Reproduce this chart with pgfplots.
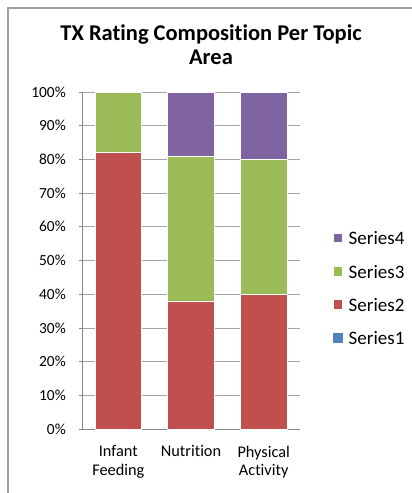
\documentclass[border=0pt]{standalone}
\usepackage{fontspec}
\setmainfont{Carlito}[Ligatures={NoCommon}]
\usepackage{pgfplots}
\pgfplotsset{compat=1.18}
\definecolor{s1}{HTML}{4F81BD}
\definecolor{s2}{HTML}{C0504D}
\definecolor{s3}{HTML}{9BBB59}
\definecolor{s4}{HTML}{8064A2}
\definecolor{axgray}{HTML}{868686}
\definecolor{gridgray}{HTML}{A6A6A6}
\definecolor{framegray}{HTML}{A0A0A0}
\begin{document}
\begin{tikzpicture}
\path[use as bounding box] (0,0) rectangle (412bp,-493bp);
\draw[framegray, line width=1.2bp] (8bp,-493bp) -- (8bp,-8bp) -- (412bp,-8bp);
\node[font=\fontsize{22.5bp}{25bp}\selectfont\bfseries, anchor=base, inner sep=0pt] at (211bp,-40.5bp) {TX Rating Composition Per Topic};
\node[font=\fontsize{22.5bp}{25bp}\selectfont\bfseries, anchor=base, inner sep=0pt] at (211bp,-64.5bp) {Area};
\begin{axis}[
  at={(82bp,-429bp)}, anchor=south west,
  scale only axis, width=218bp, height=337bp,
  ybar stacked, bar width=0.64,
  xmin=-0.5, xmax=2.5, ymin=0, ymax=100,
  xtick={0,1,2},
  xticklabels={{Infant\\Feeding},{Nutrition},{Physical\\Activity}},
  x tick label style={align=center, font=\fontsize{16.3bp}{18.3bp}\selectfont, inner sep=0pt, anchor=north, yshift=-13.5bp},
  xtick style={draw=none},
  ytick={0,10,...,100},
  yticklabels={0\%,10\%,20\%,30\%,40\%,50\%,60\%,70\%,80\%,90\%,100\%},
  y tick label style={font=\fontsize{15.4bp}{17bp}\selectfont, inner sep=0pt, anchor=east, xshift=-13bp},
  ymajorgrids, grid style={gridgray, line width=0.75bp},
  axis x line*=bottom, axis y line*=left,
  axis line style={axgray, line width=0.75bp},
  ytick style={axgray, line width=0.75bp},
  tick align=outside, major tick length=3bp,
  reverse legend, legend cell align=left,
  legend image code/.code={\fill[#1] (0bp,-3bp) rectangle (9.5bp,6.5bp);},
  legend style={at={(rel axis cs:1.15,0.586)}, anchor=north west, draw=none, fill=none,
    inner sep=0pt, row sep=17.3bp, font=\fontsize{19bp}{21bp}\selectfont,
    nodes={inner sep=0pt, text height=13bp, text depth=3bp},
    /tikz/every odd column/.append style={column sep=5.5bp}},
]
\addplot[fill=s1, draw=none] coordinates {(0,0) (1,0) (2,0)};
\addplot[fill=s2, draw=white, line width=0.8bp] coordinates {(0,82) (1,38) (2,40)};
\addplot[fill=s3, draw=white, line width=0.8bp] coordinates {(0,18) (1,43) (2,40)};
\addplot[fill=s4, draw=white, line width=0.8bp] coordinates {(0,0) (1,19) (2,20)};
\legend{Series1,Series2,Series3,Series4}
\end{axis}
\end{tikzpicture}
\end{document}
